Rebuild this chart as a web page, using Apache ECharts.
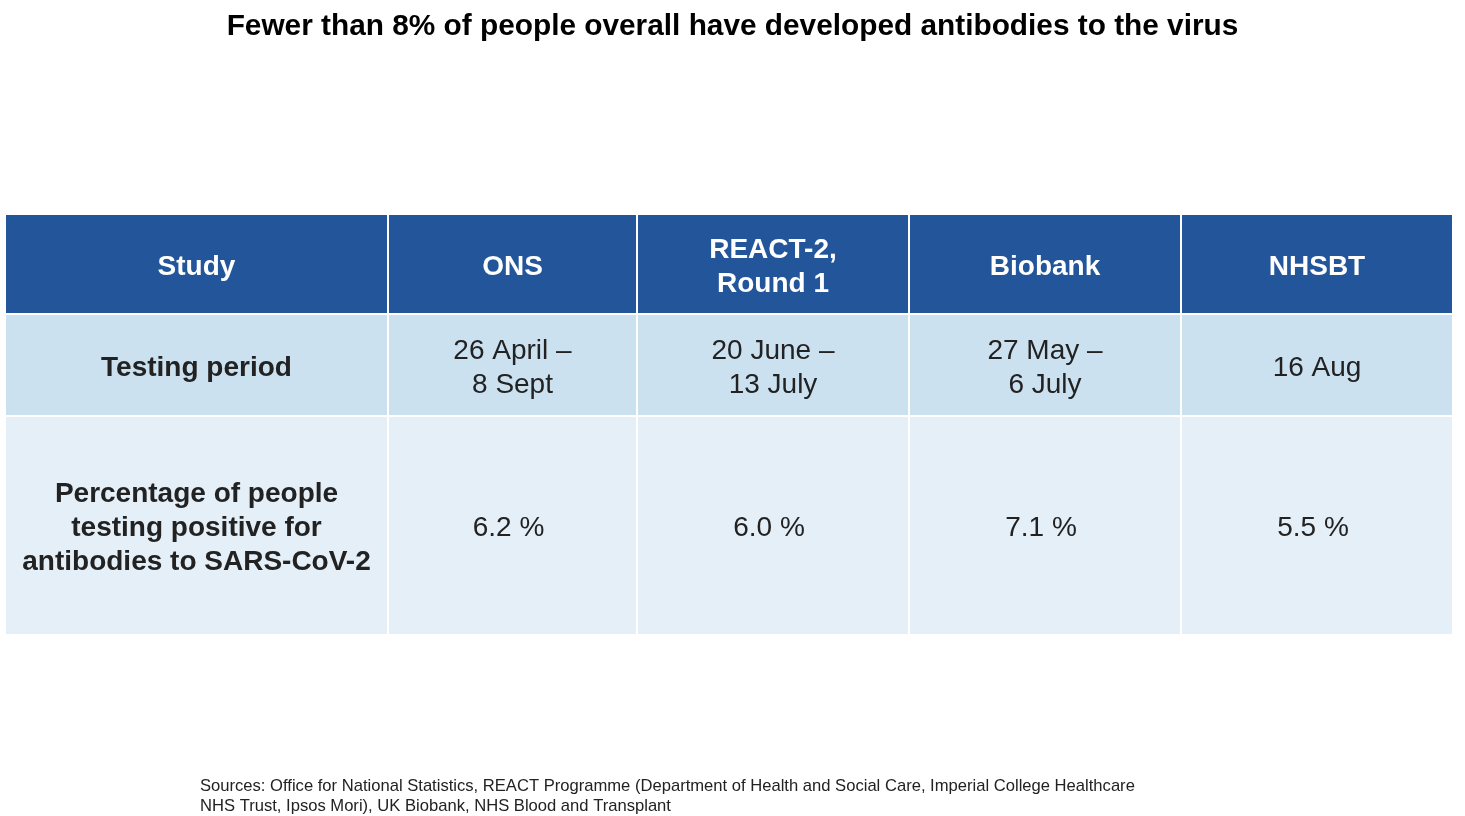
<!DOCTYPE html>
<html>
<head>
<meta charset="utf-8">
<script src="https://cdn.jsdelivr.net/npm/echarts@6/dist/echarts.min.js"></script>
<style>html,body{margin:0;padding:0;background:#fff;}#chart{width:1465px;height:816px;}</style>
</head>
<body>
<div id="chart"></div>
<script>
// ---- data ----
const rowLabels = ['Study', 'Testing period', 'Percentage of people\ntesting positive for\nantibodies to SARS-CoV-2'];
const studies = ['ONS', 'REACT-2,\nRound 1', 'Biobank', 'NHSBT'];
const testingPeriods = ['26 April –\n8 Sept', '20 June –\n13 July', '27 May –\n6 July', '16 Aug'];
const percentPositive = [6.2, 6.0, 7.1, 5.5];

// ---- layout (relative sizes) ----
const colWidths = [383, 249, 272, 272, 272];
const rowHeights = [100, 102, 219];
const rowFills = ['#23559b', '#cce1f0', '#e4eff8'];

const colEdges = [0]; colWidths.forEach(w => colEdges.push(colEdges[colEdges.length - 1] + w));
const rowEdges = [0]; rowHeights.forEach(h => rowEdges.push(rowEdges[rowEdges.length - 1] + h));

const cells = [];
rowLabels.forEach((lab, r) => cells.push([0, r, lab]));
studies.forEach((s, i) => cells.push([i + 1, 0, s]));
testingPeriods.forEach((s, i) => cells.push([i + 1, 1, s]));
percentPositive.forEach((v, i) => cells.push([i + 1, 2, v.toFixed(1) + ' %']));

const FONT = 'Liberation Sans';

const chart = echarts.init(document.getElementById('chart'));
chart.setOption({
  animation: false,
  title: [{
    text: 'Fewer than 8% of people overall have developed antibodies to the virus',
    left: 'center', top: 12, padding: 0,
    textStyle: { fontFamily: FONT, fontSize: 29.8, fontWeight: 'bold', color: '#000' }
  }, {
    text: 'Sources: Office for National Statistics, REACT Programme (Department of Health and Social Care, Imperial College Healthcare\nNHS Trust, Ipsos Mori), UK Biobank, NHS Blood and Transplant',
    left: 200, top: 776, padding: 0,
    textStyle: { fontFamily: FONT, fontSize: 16.6, fontWeight: 'normal', color: '#222', lineHeight: 20 }
  }],
  grid: { left: 5, right: 12, top: 214, bottom: 181 },
  xAxis: { type: 'value', min: 0, max: colEdges[colEdges.length - 1], show: false },
  yAxis: { type: 'value', min: 0, max: rowEdges[rowEdges.length - 1], inverse: true, show: false },
  series: [{
    type: 'custom',
    coordinateSystem: 'cartesian2d',
    data: cells,
    encode: { x: 0, y: 1 },
    renderItem: function (params, api) {
      const c = api.value(0), r = api.value(1);
      const label = cells[params.dataIndex][2];
      const p0 = api.coord([colEdges[c], rowEdges[r]]);
      const p1 = api.coord([colEdges[c + 1], rowEdges[r + 1]]);
      const header = r === 0;
      const bold = header || c === 0;
      return {
        type: 'group',
        children: [{
          type: 'rect',
          shape: { x: p0[0], y: p0[1], width: p1[0] - p0[0], height: p1[1] - p0[1] },
          style: { fill: rowFills[r], stroke: '#ffffff', lineWidth: 2 }
        }, {
          type: 'text',
          style: {
            text: label,
            x: (p0[0] + p1[0]) / 2 - (c > 0 && r === 2 ? 4 : 0),
            y: (p0[1] + p1[1]) / 2 + 3,
            align: 'center', verticalAlign: 'middle',
            fontFamily: FONT,
            fontSize: 28,
            fontWeight: bold ? 'bold' : 'normal',
            lineHeight: 34,
            fill: header ? '#ffffff' : '#222222'
          }
        }]
      };
    }
  }]
});
</script>
</body>
</html>
